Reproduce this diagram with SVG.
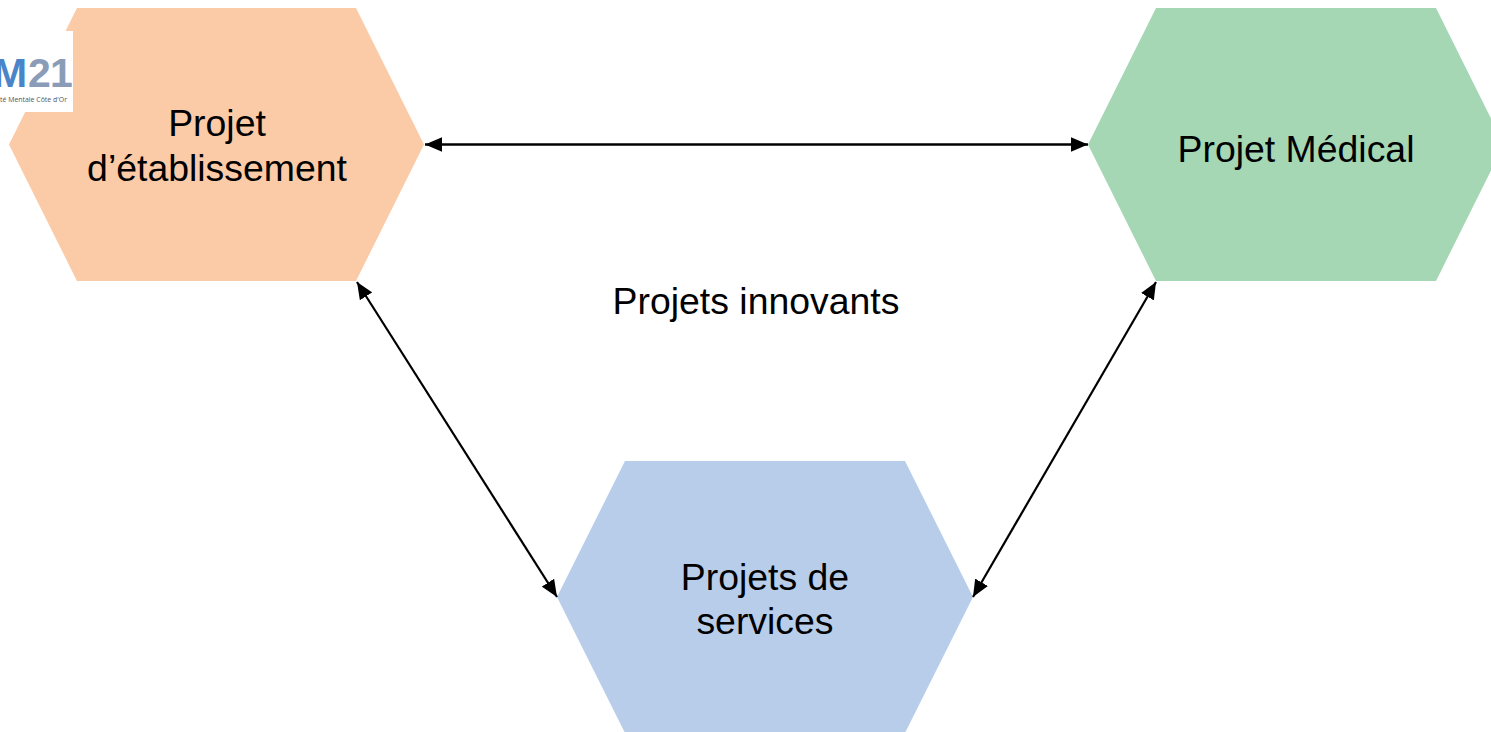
<svg xmlns="http://www.w3.org/2000/svg" width="1491" height="732" viewBox="0 0 1491 732">
<style>
.lbl{font-family:"Liberation Sans",Arial,sans-serif;font-size:37.4px;fill:#000;text-anchor:middle}
.con{stroke:#000;fill:none;stroke-width:2.2}
.con3{stroke:#000;fill:none;stroke-width:2.6}
.logo{font-family:"Liberation Sans",Arial,sans-serif;font-size:41px;font-weight:bold}
</style>
<defs>
<marker id="a" markerUnits="userSpaceOnUse" markerWidth="17" markerHeight="15" refX="15" refY="6.500" orient="auto-start-reverse" viewBox="0 0 15 13"><path d="M0 0L15 6.500L0 13z" fill="#000"/></marker>
</defs>
<rect width="1491" height="732" fill="#fff"/>
<g id="node-etablissement">
<polygon points="77,8 356,8 424,144.500 356,281 77,281 9,144.500" fill="#fbcaa7"/>
</g>
<g id="logo">
<rect x="0" y="31" width="73" height="81" fill="#fff"/>
<text class="logo" y="87"><tspan x="-7" fill="#4a85c9">M</tspan><tspan x="28" fill="#8a9cb8">2</tspan><tspan x="50" fill="#8a9cb8">1</tspan></text>
<text x="0" y="102" font-family="'Open Sans','Liberation Sans',sans-serif" font-size="8" fill="#555" textLength="67" lengthAdjust="spacingAndGlyphs">té Mentale Côte d'Or</text>
</g>
<g id="node-medical">
<polygon points="1156,8 1436,8 1504,144.500 1436,281 1156,281 1088,144.500" fill="#a5d7b4"/>
</g>
<g id="node-services">
<polygon points="625,461 905,461 973,597 905,733 625,733 557,597" fill="#b8cdea"/>
</g>
<g id="connectors">
<line class="con3" x1="425" y1="144.500" x2="1088" y2="144.500" marker-start="url(#a)" marker-end="url(#a)"/>
<line class="con" x1="357" y1="282" x2="557" y2="597" marker-start="url(#a)" marker-end="url(#a)"/>
<line class="con" x1="1156" y1="282" x2="973" y2="597" marker-start="url(#a)" marker-end="url(#a)"/>
</g>
<g id="labels">
<text class="lbl" x="217" y="136">Projet</text>
<text class="lbl" x="217" y="181">d’établissement</text>
<text class="lbl" x="1296" y="162">Projet Médical</text>
<text class="lbl" x="756" y="314">Projets innovants</text>
<text class="lbl" x="765" y="590">Projets de</text>
<text class="lbl" x="765" y="634">services</text>
</g>
</svg>
